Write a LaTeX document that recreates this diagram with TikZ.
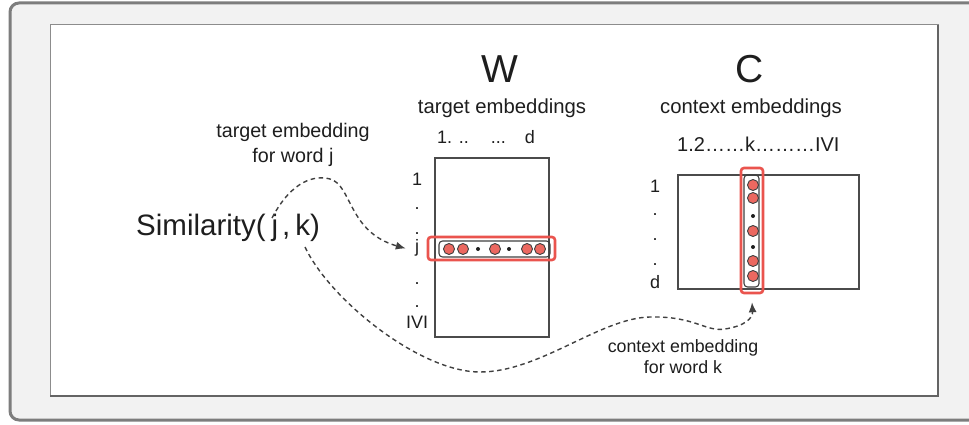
\documentclass[tikz,border=0pt]{standalone}
\usepackage{fontspec}
\setmainfont{Liberation Sans}
\usetikzlibrary{arrows.meta}

\definecolor{framebg}{RGB}{242,242,242}
\definecolor{frameline}{RGB}{125,125,125}
\definecolor{panelline}{RGB}{140,140,140}
\definecolor{ink}{RGB}{30,30,30}
\definecolor{hlred}{RGB}{234,84,78}
\definecolor{cellfill}{RGB}{236,104,96}

\tikzset{
  mat/.style={draw=ink!80, line width=1.3pt, inner sep=0pt},
  hl/.style={draw=hlred, line width=2.6pt, rounded corners=3pt, inner sep=0pt},
  vec/.style={draw=ink!85, line width=1.1pt, rounded corners=3.5pt, inner sep=0pt},
  cell/.style={circle, draw=ink!85, line width=0.9pt, fill=cellfill, minimum size=11pt, inner sep=0pt},
  gap/.style={circle, fill=ink, minimum size=4pt, inner sep=0pt},
  lbl/.style={text=ink, inner sep=0pt, anchor=base},
  link/.style={draw=ink!85, line width=1.4pt, dash pattern=on 4.5pt off 3.5pt, -{Latex[length=10pt,width=8pt]}}
}

\begin{document}
\begin{tikzpicture}[x=1pt, y=-1pt]
\useasboundingbox (0,0) rectangle (969,425);
\clip (0,0) rectangle (969,425);

% outer frame and white panel
\draw[fill=framebg, draw=frameline, line width=3pt, rounded corners=9pt] (10,3) rectangle (995,420);
\draw[fill=white, draw=panelline, line width=1pt] (50,25) rectangle (938,396);
\draw[draw=frameline!80!black, line width=2pt] (938,25) -- (938,396) -- (50,396);

% headings
\node[lbl, font=\fontsize{39}{39}\selectfont] (Wt) at (500,83) {W};
\node[lbl, font=\fontsize{39}{39}\selectfont] (Ct) at (750,83) {C};
\node[lbl, font=\fontsize{20.3}{22}\selectfont] (Ws) at (502,114) {target embeddings};
\node[lbl, font=\fontsize{20.3}{22}\selectfont] (Cs) at (751,114) {context embeddings};

% column indices
\node[lbl, anchor=base west, font=\fontsize{18}{20}\selectfont] (Wcols) at (437,144) {1. ..\hspace{22pt}...\hspace{19pt}d};
\node[lbl, anchor=base west, font=\fontsize{20}{22}\selectfont] (Ccols) at (677,151) {1.2……k………IVI};

% target matrix W
\node[mat, minimum width=114pt, minimum height=179pt] (W) at (492,247.5) {};
\begin{scope}[every node/.style={lbl, font=\fontsize{18}{20}\selectfont}]
  \node (Wr1) at (417,185) {1};
  \node (Wd1) at (417,209) {.};
  \node (Wd2) at (417,234) {.};
  \node (Wj)  at (417,252) {j};
  \node (Wd3) at (417,284) {.};
  \node (Wd4) at (417,307) {.};
  \node (WV)  at (417,328) {IVI};
\end{scope}
\node[hl, minimum width=127pt, minimum height=23pt] (Wrow) at (491.5,248.5) {};
\node[vec, minimum width=111pt, minimum height=16pt] (Wvec) at (494.5,249) {};
\node[cell] (w1) at (449,249) {};
\node[cell] (w2) at (463,249) {};
\node[gap]  (w3) at (478,249) {};
\node[cell] (w4) at (495,249) {};
\node[gap]  (w5) at (509,249) {};
\node[cell] (w6) at (527,249) {};
\node[cell] (w7) at (540,249) {};

% context matrix C
\node[mat, minimum width=181pt, minimum height=114pt] (C) at (768.5,232) {};
\begin{scope}[every node/.style={lbl, font=\fontsize{18}{20}\selectfont}]
  \node (Cr1) at (655,192) {1};
  \node (Cd1) at (655,215) {.};
  \node (Cd2) at (655,240) {.};
  \node (Cd3) at (655,265) {.};
  \node (Crd) at (655,288) {d};
\end{scope}
\node[hl, minimum width=22pt, minimum height=125pt] (Ccol) at (752,230.5) {};
\node[vec, minimum width=15pt, minimum height=112pt] (Cvec) at (751.5,231) {};
\node[cell] (c1) at (753,185) {};
\node[cell] (c2) at (753,198) {};
\node[gap]  (c3) at (753,216) {};
\node[cell] (c4) at (753,231) {};
\node[gap]  (c5) at (753,247) {};
\node[cell] (c6) at (753,261) {};
\node[cell] (c7) at (753,276) {};

% similarity expression and annotations
\node[lbl, anchor=base west, font=\fontsize{29.5}{32}\selectfont] (sim) at (136,235)
  {Similarity(\hspace{6pt}j\hspace{4pt},\hspace{5pt}k)};
\node[lbl, font=\fontsize{19.7}{22}\selectfont] (tgt1) at (293,138) {target embedding};
\node[lbl, font=\fontsize{19.7}{22}\selectfont] (tgt2) at (293,163) {for word j};
\node[lbl, font=\fontsize{17.8}{20}\selectfont] (ctx1) at (683,352) {context embedding};
\node[lbl, font=\fontsize{17.8}{20}\selectfont] (ctx2) at (683,373) {for word k};

% dashed links from the expression to the two embeddings
\coordinate (sj) at (272,218);
\coordinate (sk) at (305,247);
\draw[link] (sj) .. controls (292,180) and (315,175) .. (330,179)
                 .. controls (352,185) and (348,232) .. ([xshift=-9pt]Wj.west |- Wrow.center);
\draw[link] (sk) .. controls (330,300) and (420,372) .. (480,372)
                 .. controls (540,372) and (600,318) .. (650,317)
                 .. controls (695,316) and (705,332) .. (725,329)
                 .. controls (745,326) and (753,318) .. ([yshift=-8pt]Ccol.south);
\end{tikzpicture}
\end{document}
